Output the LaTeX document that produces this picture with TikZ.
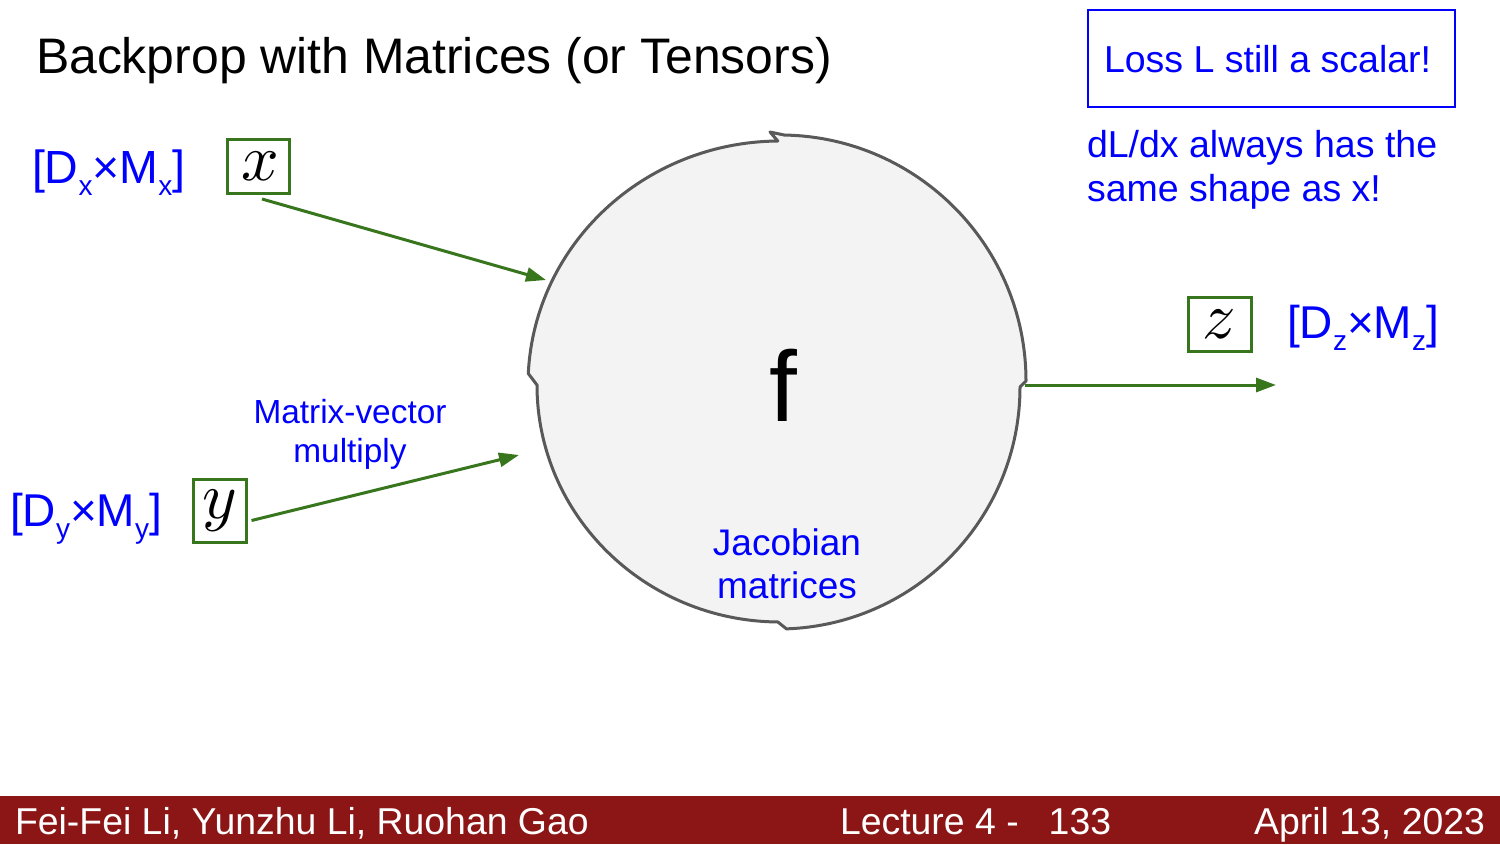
\documentclass[tikz,border=0pt]{standalone}
\usepackage{graphicx}
\usepackage{fontspec}
\setmainfont{Liberation Sans}
\usetikzlibrary{arrows.meta,calc}
\definecolor{lblue}{RGB}{0,0,255}
\definecolor{dgreen}{RGB}{56,118,29}
\definecolor{circfill}{RGB}{243,243,243}
\definecolor{circline}{RGB}{89,89,89}
\definecolor{footred}{RGB}{140,21,21}
\newcommand{\fsz}[1]{\fontsize{#1}{#1}\selectfont}
\newcommand{\sbx}[1]{\raisebox{-12pt}{\fsz{28}#1}}
\newcommand{\bigmath}[1]{\scalebox{6.6}{$#1$}}
\begin{document}
\begin{tikzpicture}[x=1pt,y=-1pt,
  txt/.style={inner sep=0pt, outer sep=0pt},
  bluetxt/.style={txt, text=lblue},
  gbox/.style={draw=dgreen, line width=3pt, inner sep=0pt, fill=white},
  garrow/.style={draw=dgreen, line width=3pt, -{Triangle[length=20pt,width=14pt]}},
]
\useasboundingbox (0,0) rectangle (1500,844);
\fill[white] (0,0) rectangle (1500,844);

% title
\node[txt, anchor=base west, font=\fsz{49.9}] (title) at (36,73) {Backprop with Matrices (or Tensors)};

% top right box
\node[draw=lblue, line width=2.5pt, minimum width=367pt, minimum height=97pt, inner sep=0pt] (lossbox) at (1271.5,58.5) {};
\node[bluetxt, anchor=base west, font=\fsz{37.5}] (loss) at (1104,72) {Loss L still a scalar!};
\node[bluetxt, anchor=base west, font=\fsz{37.5}] (note1) at (1087,157) {dL/dx always has the};
\node[bluetxt, anchor=base west, font=\fsz{37.5}] (note2) at (1087,201) {same shape as x!};

% circle f
\coordinate (fc) at (780,383);
\filldraw[fill=circfill, draw=circline, line width=3pt, line join=round]
  ($(780,381)+(271:246)$) arc[start angle=271, end angle=360, radius=246]
  -- (1020,387)
  arc[start angle=0, end angle=88, radius=242]
  -- ($(780,385)+(90.5:243 and 237)$)
  arc[start angle=90.5, end angle=180, x radius=243, y radius=237]
  -- ($(780,385)+(182.7:252 and 244)$)
  arc[start angle=182.7, end angle=269.5, x radius=252, y radius=244]
  -- (770,132) -- cycle;

\node[txt, anchor=base, font=\fsz{100}] (f) at (783,421) {f};
\node[bluetxt, anchor=base, font=\fsz{37}] (jac1) at (787,555) {Jacobian};
\node[bluetxt, anchor=base, font=\fsz{37}] (jac2) at (787,598) {matrices};

% inputs / output boxes
\node[gbox, minimum width=62pt, minimum height=54pt] (xb) at (258,166.5) {\hspace{5pt}\bigmath{x}};
\node[gbox, minimum width=53pt, minimum height=63pt] (yb) at (219.5,510.5) {\bigmath{y}};
\node[gbox, minimum width=63pt, minimum height=54pt] (zb) at (1219.5,324) {\bigmath{z}};

% shape labels
\node[bluetxt, anchor=base west, font=\fsz{46.5}] (xl) at (32,183) {[D\sbx{x}×M\sbx{x}]};
\node[bluetxt, anchor=base west, font=\fsz{46}] (yl) at (10,526) {[D\sbx{y}×M\sbx{y}]};
\node[bluetxt, anchor=base west, font=\fsz{46}] (zl) at (1287,338) {[D\sbx{z}×M\sbx{z}]};

\node[bluetxt, anchor=base, font=\fsz{33.4}] (mv1) at (350,423) {Matrix-vector};
\node[bluetxt, anchor=base, font=\fsz{33.4}] (mv2) at (350,462) {multiply};

% arrows
\coordinate (inx) at (546,280);
\coordinate (iny) at (519,455);
\coordinate (outs) at (1025,385);
\coordinate (oute) at (1276,385);
\draw[garrow] ([shift={(4,4)}]xb.south) -- (inx);
\draw[garrow] ([shift={(4,10)}]yb.east) -- (iny);
\draw[garrow] (outs) -- (oute);

% footer
\fill[footred] (0,796) rectangle (1500,844);
\node[txt, anchor=base west, text=white, font=\fsz{37.4}] (auth) at (15,834) {Fei-Fei Li, Yunzhu Li, Ruohan Gao};
\node[txt, anchor=base west, text=white, font=\fsz{37.4}] (lec) at (840,834) {Lecture 4 -\hspace{30pt}133};
\node[txt, anchor=base east, text=white, font=\fsz{37.4}] (date) at (1485,834) {April 13, 2023};
\end{tikzpicture}
\end{document}
